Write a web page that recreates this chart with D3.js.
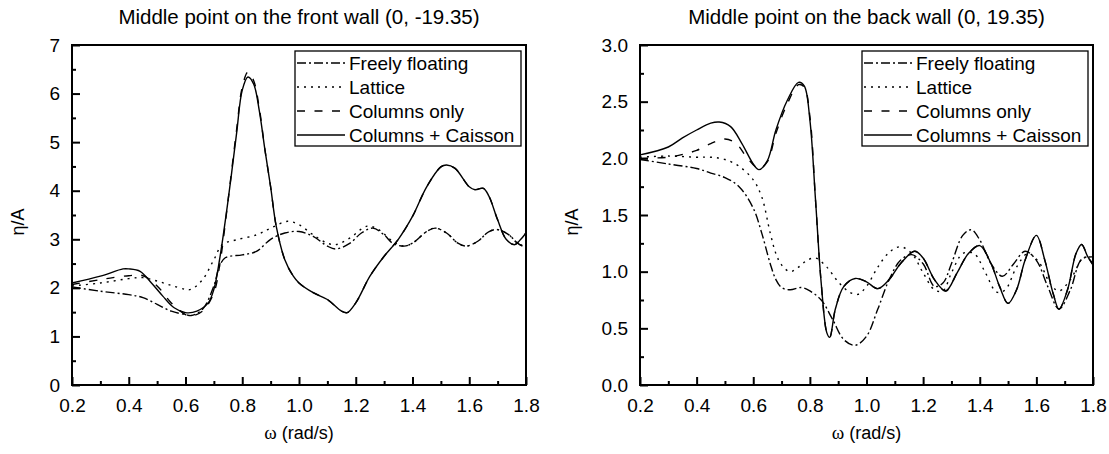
<!DOCTYPE html>
<html>
<head>
<meta charset="utf-8">
<script src="https://cdn.jsdelivr.net/npm/d3@7"></script>
<style>
  body { margin: 0; background: #fff; }
  svg { display: block; font-family: "Liberation Sans", Arial, sans-serif; }
</style>
</head>
<body>
<div id="chart"></div>
<script>
// legend / series names
const seriesNames = ["Freely floating", "Lattice", "Columns only", "Columns + Caisson"]
const xTicks = [0.2, 0.4, 0.6, 0.8, 1.0, 1.2, 1.4, 1.6, 1.8]
const frontYTicks = [0, 1, 2, 3, 4, 5, 6, 7]
const backYTicks = [0.0, 0.5, 1.0, 1.5, 2.0, 2.5, 3.0]

// front wall (0, -19.35): [omega, eta/A]
const frontFreely = [[0.2,2.02],[0.3,1.93],[0.4,1.86],[0.45,1.8],[0.5,1.66],[0.55,1.52],[0.6,1.45],[0.62,1.43],[0.66,1.56],[0.7,2.04],[0.72,2.45],[0.74,2.62],[0.8,2.68],[0.85,2.75],[0.9,3.0],[0.95,3.13],[1.0,3.16],[1.05,3.06],[1.1,2.86],[1.13,2.8],[1.18,2.92],[1.22,3.13],[1.26,3.23],[1.3,3.09],[1.33,2.92],[1.37,2.86],[1.4,2.92],[1.45,3.16],[1.48,3.23],[1.52,3.13],[1.56,2.92],[1.59,2.86],[1.63,2.96],[1.67,3.16],[1.7,3.2],[1.74,3.09],[1.77,2.92],[1.8,2.82]]
const frontLattice = [[0.2,2.04],[0.3,2.1],[0.4,2.19],[0.45,2.21],[0.5,2.14],[0.55,2.05],[0.6,1.97],[0.62,1.97],[0.66,2.17],[0.7,2.58],[0.73,2.89],[0.78,2.99],[0.85,3.09],[0.9,3.23],[0.96,3.37],[1.0,3.3],[1.05,3.09],[1.1,2.92],[1.13,2.89],[1.18,3.03],[1.24,3.27],[1.28,3.2],[1.33,2.96],[1.37,2.86],[1.4,2.92],[1.45,3.16],[1.48,3.23],[1.52,3.13],[1.56,2.92],[1.59,2.86],[1.63,2.96],[1.67,3.16],[1.7,3.2],[1.74,3.09],[1.77,2.92],[1.8,2.85]]
const frontColumns = [[0.2,2.07],[0.3,2.17],[0.4,2.25],[0.45,2.25],[0.5,2.04],[0.55,1.69],[0.6,1.45],[0.62,1.42],[0.66,1.52],[0.7,1.9],[0.72,2.45],[0.75,3.8],[0.78,5.25],[0.8,6.13],[0.82,6.44],[0.84,6.27],[0.86,5.7],[0.88,4.84],[0.9,4.08],[0.92,3.26],[0.95,2.58],[0.98,2.24],[1.0,2.1],[1.05,1.9],[1.1,1.76],[1.15,1.52],[1.17,1.49],[1.2,1.69],[1.25,2.24],[1.3,2.65],[1.35,3.0],[1.4,3.47],[1.45,4.08],[1.5,4.49],[1.52,4.53],[1.55,4.46],[1.6,4.08],[1.62,4.02],[1.65,4.05],[1.67,3.88],[1.7,3.4],[1.73,3.0],[1.76,2.89],[1.78,2.99],[1.8,3.13]]
const frontCaisson = [[0.2,2.1],[0.3,2.24],[0.38,2.39],[0.4,2.39],[0.44,2.34],[0.48,2.1],[0.52,1.83],[0.56,1.59],[0.6,1.49],[0.64,1.52],[0.68,1.69],[0.7,1.97],[0.72,2.58],[0.75,3.8],[0.78,5.18],[0.8,6.07],[0.82,6.34],[0.84,6.2],[0.86,5.65],[0.88,4.84],[0.9,4.08],[0.92,3.26],[0.95,2.58],[0.98,2.24],[1.0,2.1],[1.05,1.9],[1.1,1.76],[1.15,1.52],[1.17,1.49],[1.2,1.69],[1.25,2.24],[1.3,2.65],[1.35,3.0],[1.4,3.47],[1.45,4.08],[1.5,4.49],[1.52,4.53],[1.55,4.46],[1.6,4.08],[1.62,4.02],[1.65,4.05],[1.67,3.88],[1.7,3.4],[1.73,3.0],[1.76,2.89],[1.78,2.99],[1.8,3.13]]

// back wall (0, 19.35): [omega, eta/A]
const backFreely = [[0.2,1.99],[0.3,1.95],[0.4,1.91],[0.45,1.87],[0.5,1.83],[0.55,1.75],[0.6,1.56],[0.63,1.34],[0.66,1.07],[0.68,0.93],[0.7,0.86],[0.73,0.84],[0.77,0.86],[0.8,0.83],[0.84,0.75],[0.88,0.58],[0.92,0.4],[0.96,0.35],[1.0,0.43],[1.04,0.67],[1.08,0.93],[1.12,1.1],[1.16,1.15],[1.2,1.07],[1.24,0.87],[1.27,0.9],[1.3,1.07],[1.34,1.32],[1.37,1.37],[1.4,1.28],[1.44,1.07],[1.48,0.96],[1.52,1.07],[1.56,1.18],[1.6,1.1],[1.64,0.87],[1.68,0.67],[1.72,0.84],[1.76,1.11],[1.8,1.13]]
const backLattice = [[0.2,2.01],[0.3,2.02],[0.4,2.01],[0.45,2.01],[0.5,1.99],[0.55,1.93],[0.6,1.81],[0.63,1.66],[0.66,1.34],[0.68,1.16],[0.7,1.06],[0.73,1.0],[0.76,1.04],[0.79,1.1],[0.82,1.12],[0.86,1.04],[0.9,0.91],[0.94,0.82],[0.97,0.8],[1.0,0.87],[1.04,1.04],[1.08,1.17],[1.12,1.22],[1.16,1.16],[1.2,0.99],[1.24,0.84],[1.27,0.83],[1.3,0.99],[1.34,1.16],[1.38,1.16],[1.42,0.99],[1.46,0.82],[1.49,0.84],[1.53,1.04],[1.57,1.16],[1.61,1.08],[1.65,0.89],[1.68,0.83],[1.72,0.93],[1.77,1.13],[1.8,1.07]]
const backColumns = [[0.2,2.0],[0.3,2.01],[0.36,2.04],[0.4,2.07],[0.45,2.13],[0.5,2.17],[0.54,2.13],[0.58,2.0],[0.62,1.91],[0.65,1.97],[0.68,2.22],[0.72,2.48],[0.76,2.65],[0.78,2.63],[0.8,2.37],[0.82,1.63],[0.84,0.9],[0.86,0.46],[0.87,0.42],[0.89,0.67],[0.92,0.87],[0.96,0.94],[1.0,0.91],[1.04,0.85],[1.08,0.93],[1.12,1.07],[1.17,1.18],[1.2,1.12],[1.24,0.93],[1.28,0.83],[1.32,0.99],[1.36,1.16],[1.4,1.23],[1.44,1.07],[1.47,0.87],[1.5,0.72],[1.53,0.84],[1.56,1.1],[1.6,1.32],[1.63,1.1],[1.66,0.8],[1.68,0.67],[1.71,0.84],[1.74,1.16],[1.76,1.24],[1.78,1.14],[1.8,1.06]]
const backCaisson = [[0.2,2.03],[0.3,2.1],[0.35,2.18],[0.4,2.25],[0.45,2.31],[0.48,2.32],[0.52,2.28],[0.56,2.13],[0.6,1.95],[0.62,1.9],[0.65,1.98],[0.68,2.25],[0.72,2.51],[0.76,2.67],[0.78,2.64],[0.8,2.34],[0.82,1.63],[0.84,0.9],[0.86,0.46],[0.87,0.42],[0.89,0.67],[0.92,0.87],[0.96,0.94],[1.0,0.91],[1.04,0.85],[1.08,0.93],[1.12,1.07],[1.17,1.18],[1.2,1.12],[1.24,0.93],[1.28,0.83],[1.32,0.99],[1.36,1.16],[1.4,1.23],[1.44,1.07],[1.47,0.87],[1.5,0.72],[1.53,0.84],[1.56,1.1],[1.6,1.32],[1.63,1.1],[1.66,0.8],[1.68,0.67],[1.71,0.84],[1.74,1.16],[1.76,1.24],[1.78,1.14],[1.8,1.06]]

const DASHES = ["9,3,2,3", "2,5", "8,9.5", null]
const W = 1109, H = 454

const svg = d3.select("#chart").append("svg")
  .attr("width", W)
  .attr("height", H)

const drawPanel = (cfg) => {
  const x = d3.scaleLinear().domain([0.2, 1.8]).range([cfg.left, cfg.right])
  const y = d3.scaleLinear().domain(cfg.yDomain).range([385, 45])
  const g = svg.append("g")

  // title
  g.append("text")
    .attr("x", (cfg.left + cfg.right) / 2)
    .attr("y", 24)
    .attr("text-anchor", "middle")
    .attr("font-size", "20.5px")
    .text(cfg.title)

  // curves
  const line = d3.line()
    .x(d => x(d[0]))
    .y(d => y(d[1]))
    .curve(d3.curveCatmullRom.alpha(0.5))

  cfg.series.forEach((s, i) => {
    g.append("path")
      .datum(s)
      .attr("fill", "none")
      .attr("stroke", "#000")
      .attr("stroke-width", 1.4)
      .attr("stroke-dasharray", DASHES[i])
      .attr("d", line)
  })

  // axes with inward ticks
  const xMinor = d3.range(0.3, 1.8, 0.2)
  const xAxis = d3.axisBottom(x).tickValues(xTicks).tickSize(-8).tickPadding(14)
    .tickFormat(d3.format(".1f"))
  g.append("g")
    .attr("transform", `translate(0, ${385})`)
    .call(xAxis)
    .call(a => a.select(".domain").remove())
  g.append("g")
    .attr("transform", `translate(0, ${385})`)
    .call(d3.axisBottom(x).tickValues(xMinor).tickSize(-4).tickFormat(""))
    .call(a => a.select(".domain").remove())

  const yAxis = d3.axisLeft(y).tickValues(cfg.yTicks).tickSize(-8).tickPadding(12)
    .tickFormat(cfg.yFormat)
  g.append("g")
    .attr("transform", `translate(${cfg.left}, 0)`)
    .call(yAxis)
    .call(a => a.select(".domain").remove())
  g.append("g")
    .attr("transform", `translate(${cfg.left}, 0)`)
    .call(d3.axisLeft(y).tickValues(cfg.yMinor).tickSize(-4).tickFormat(""))
    .call(a => a.select(".domain").remove())

  g.selectAll(".tick line").attr("stroke", "#000").attr("stroke-width", 2)
  g.selectAll(".tick text")
    .attr("font-size", "19px")
    .attr("font-family", "Liberation Sans, Arial, sans-serif")
    .attr("fill", "#000")

  // frame
  g.append("rect")
    .attr("x", cfg.left)
    .attr("y", 45)
    .attr("width", cfg.right - cfg.left)
    .attr("height", 340)
    .attr("fill", "none")
    .attr("stroke", "#000")
    .attr("stroke-width", 2)

  // axis labels
  const xl = g.append("text")
    .attr("x", (cfg.left + cfg.right) / 2)
    .attr("y", 439)
    .attr("text-anchor", "middle")
    .attr("font-size", "18px")
  xl.append("tspan").attr("font-family", "Liberation Serif, Times New Roman, serif").attr("font-size", "19px").text("ω")
  xl.append("tspan").text(" (rad/s)")

  g.append("text")
    .attr("transform", `translate(${cfg.yLabelX}, 222) rotate(-90)`)
    .attr("text-anchor", "middle")
    .attr("font-size", "18px")
    .text("η/A")

  // legend
  const lg = g.append("g").attr("transform", `translate(${cfg.right - 231}, 51)`)
  lg.append("rect")
    .attr("width", 226)
    .attr("height", 95)
    .attr("fill", "#fff")
    .attr("stroke", "#000")
    .attr("stroke-width", 1.3)
  seriesNames.forEach((name, i) => {
    const yy = 12 + i * 24
    lg.append("line")
      .attr("x1", 2).attr("x2", 50)
      .attr("y1", yy).attr("y2", yy)
      .attr("stroke", "#000")
      .attr("stroke-width", 1.4)
      .attr("stroke-dasharray", DASHES[i])
    lg.append("text")
      .attr("x", 54)
      .attr("y", yy)
      .attr("dy", "0.35em")
      .attr("font-size", "19px")
      .text(name)
  })
}

drawPanel({
  left: 72, right: 526,
  yDomain: [0, 7],
  yTicks: frontYTicks,
  yMinor: [0.5, 1.5, 2.5, 3.5, 4.5, 5.5, 6.5],
  yFormat: d3.format("d"),
  yLabelX: 24,
  title: "Middle point on the front wall (0, -19.35)",
  series: [frontFreely, frontLattice, frontColumns, frontCaisson]
})

drawPanel({
  left: 640, right: 1093,
  yDomain: [0, 3],
  yTicks: backYTicks,
  yMinor: [0.25, 0.75, 1.25, 1.75, 2.25, 2.75],
  yFormat: d3.format(".1f"),
  yLabelX: 578,
  title: "Middle point on the back wall (0, 19.35)",
  series: [backFreely, backLattice, backColumns, backCaisson]
})
</script>
</body>
</html>
